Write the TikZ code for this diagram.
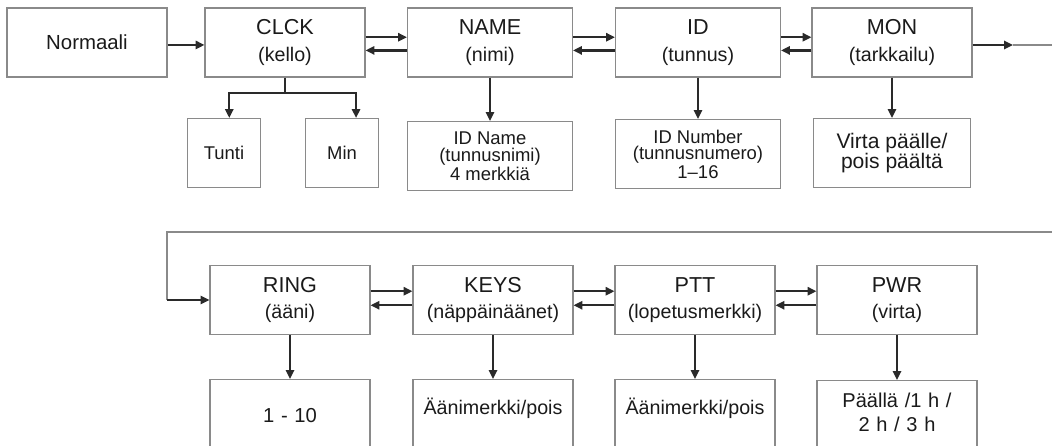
\documentclass[tikz,border=0pt]{standalone}
\usepackage{fontspec}
\setmainfont{Liberation Sans}
\usetikzlibrary{arrows.meta}
\definecolor{boxgray}{HTML}{8A8A8A}
\definecolor{arrowgray}{HTML}{2A2A2A}
\definecolor{textgray}{HTML}{1A1A1A}
\newcommand{\boxtitle}[1]{{\fontsize{12.3}{15}\selectfont #1}}

\begin{document}
\begin{tikzpicture}[x=0.02cm, y=-0.02cm,
  box/.style={draw=boxgray, line width=0.6pt, text=textgray, minimum width=3.2cm, minimum height=1.38cm, align=center, font=\fontsize{11.2}{15}\selectfont},
  leaf/.style={draw=boxgray, line width=0.6pt, text=textgray, minimum height=1.38cm, align=center, font=\fontsize{10.5}{9.5}\selectfont},
  endleaf/.style={draw=boxgray, line width=0.6pt, text=textgray, anchor=north, inner sep=0pt, text width=3.2cm, align=center, text depth=45pt, font=\fontsize{11.2}{13.6}\selectfont},
  arrow/.style={-{Triangle[length=5pt,width=4.6pt]}, line width=1.35pt, draw=arrowgray},
  link/.style={draw=boxgray, line width=0.6pt}
]
  \useasboundingbox (0,0) rectangle (1052,446);
  \clip (0,0) rectangle (1052,446);

  \node[box, font=\fontsize{11.6}{14}\selectfont] (norm) at (87,42.5) {Normaali};
  \node[box] (clck) at (285,42.5) {\boxtitle{CLCK}\\(kello)};
  \node[box, minimum width=3.3cm] (name) at (490,42.5) {\boxtitle{NAME}\\(nimi)};
  \node[box, minimum width=3.3cm] (id) at (698,42.5) {\boxtitle{ID}\\(tunnus)};
  \node[box] (mon) at (892,42.5) {\boxtitle{MON}\\(tarkkailu)};

  \node[leaf, minimum width=1.46cm] (tunti) at (224,153) {Tunti};
  \node[leaf, minimum width=1.46cm] (min) at (342,153) {Min};
  \node[leaf, minimum width=3.3cm] (idname) at (490,156) {ID Name\\(tunnusnimi)\\4 merkkiä};
  \node[leaf, minimum width=3.3cm] (idnum) at (698,154) {ID Number\\(tunnusnumero)\\1–16};
  \node[leaf, minimum width=3.15cm, font=\fontsize{12}{11.5}\selectfont] (virta) at (892,153) {Virta päälle/\\pois päältä};

  \node[box] (ring) at (290,300) {\boxtitle{RING}\\(ääni)};
  \node[box] (keys) at (493,300) {\boxtitle{KEYS}\\(näppäinäänet)};
  \node[box] (ptt) at (695,300) {\boxtitle{PTT}\\(lopetusmerkki)};
  \node[box] (pwr) at (897,300) {\boxtitle{PWR}\\(virta)};

  \node[endleaf, text height=24.4pt, font=\fontsize{11.5}{13.6}\selectfont] (ringval) at (290,379) {1 - 10};
  \node[endleaf, text height=19.8pt] (keysval) at (493,379) {Äänimerkki/pois};
  \node[endleaf, text height=19.8pt] (pttval) at (695,379) {Äänimerkki/pois};
  \node[endleaf, text height=15.3pt, font=\fontsize{11.4}{13.6}\selectfont] (pwrval) at (897,380) {Päällä /1 h /\\2 h / 3 h};

  \coordinate (split) at (285,93);
  \coordinate (monout) at (1013,45);
  \coordinate (rimtop) at (1052,45);
  \coordinate (rimlow) at (1052,232);
  \coordinate (loopcorner) at (167,232);
  \coordinate (loopin) at (167,300);

  \draw[arrow] ([yshift=-1.4pt]norm.east) -- ([yshift=-1.4pt]clck.west);
  \draw[arrow] ([yshift=3pt]clck.east) -- ([yshift=3pt]name.west);
  \draw[arrow] ([yshift=-4.5pt]name.west) -- ([yshift=-4.5pt]clck.east);
  \draw[arrow] ([yshift=3pt]name.east) -- ([yshift=3pt]id.west);
  \draw[arrow] ([yshift=-4.5pt]id.west) -- ([yshift=-4.5pt]name.east);
  \draw[arrow] ([yshift=3pt]id.east) -- ([yshift=3pt]mon.west);
  \draw[arrow] ([yshift=-4.5pt]mon.west) -- ([yshift=-4.5pt]id.east);
  \draw[arrow] (mon.east |- monout) -- (monout);
  \draw[link] (monout) -- (rimtop);

  \draw[line width=1.35pt, arrowgray] (clck.south) -- (split);
  \draw[arrow] (split) -| ([xshift=3pt]tunti.north);
  \draw[arrow] (split) -| ([xshift=8pt]min.north);
  \draw[arrow] (name) -- (idname);
  \draw[arrow] (id) -- (idnum);
  \draw[arrow] (mon) -- (virta);

  \draw[link] (rimlow) -- (loopcorner) -- (loopin);
  \draw[arrow] (loopin) -- (ring.west);
  \draw[arrow] ([yshift=5pt]ring.east) -- ([yshift=5pt]keys.west);
  \draw[arrow] ([yshift=-3pt]keys.west) -- ([yshift=-3pt]ring.east);
  \draw[arrow] ([yshift=5pt]keys.east) -- ([yshift=5pt]ptt.west);
  \draw[arrow] ([yshift=-3pt]ptt.west) -- ([yshift=-3pt]keys.east);
  \draw[arrow] ([yshift=5pt]ptt.east) -- ([yshift=5pt]pwr.west);
  \draw[arrow] ([yshift=-3pt]pwr.west) -- ([yshift=-3pt]ptt.east);

  \draw[arrow] (ring) -- (ringval);
  \draw[arrow] (keys) -- (keysval);
  \draw[arrow] (ptt) -- (pttval);
  \draw[arrow] (pwr) -- (pwrval);
\end{tikzpicture}
\end{document}
